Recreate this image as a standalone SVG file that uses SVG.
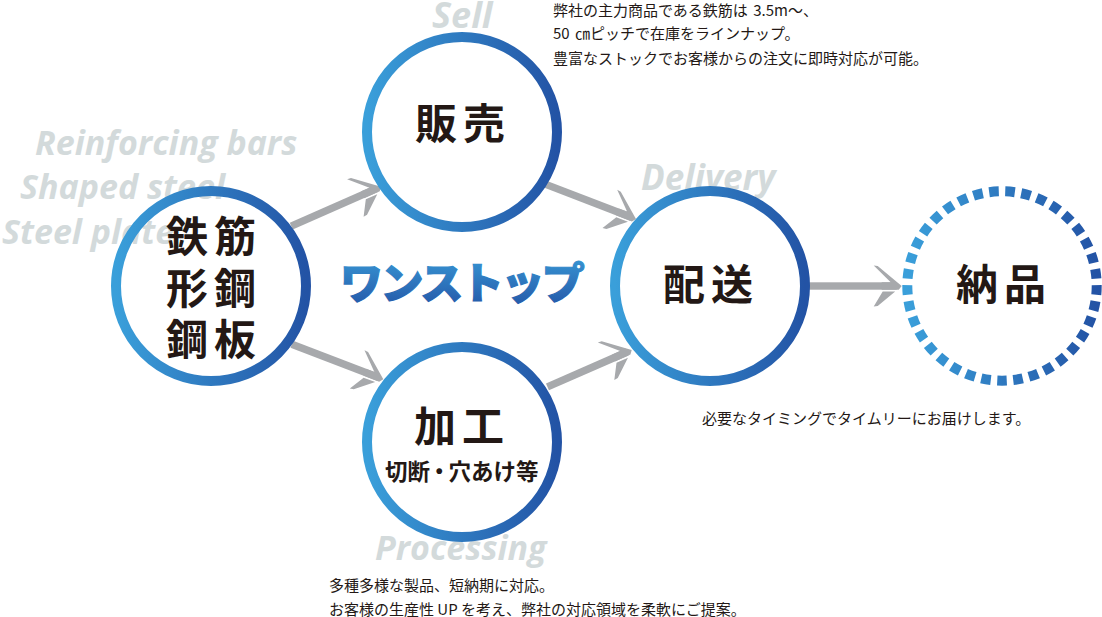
<svg xmlns="http://www.w3.org/2000/svg" width="1102" height="617" viewBox="0 0 1102 617">
<style>
text{font-family:"Noto Sans CJK JP","Noto Sans",sans-serif;fill:#231815}
.ghost{font-family:"Open Sans","Noto Sans",sans-serif;font-style:italic;font-weight:700;font-size:34px;fill:#d3dadb}
.big{font-weight:700;font-size:42px;letter-spacing:6px}
.note{font-size:15px;word-spacing:2px}
.ring{fill:none;stroke:url(#g);stroke-width:10}
.shaft{fill:#a7a9ac}
</style>
<defs>
<linearGradient id="g" x1="0" y1="0" x2="1" y2="0"><stop offset="0" stop-color="#3a9fda"/><stop offset="1" stop-color="#2353a5"/></linearGradient>
<linearGradient id="gv" x1="0" y1="0" x2="0" y2="1"><stop offset="0" stop-color="#3a9fda"/><stop offset="1" stop-color="#2353a5"/></linearGradient>
<path id="head" class="shaft" d="M-28-20.5L-24-20L0 0L-3 3.7H-20V-3.7H-11ZM-28 20.5L-19 5.5H-6.5L-24 20Z"/>
</defs>
<g id="ghost-labels">
<text class="ghost" x="35" y="155">Reinforcing bars</text>
<text class="ghost" x="20" y="199">Shaped steel</text>
<text class="ghost" x="2" y="244">Steel plate</text>
<text class="ghost" x="432" y="28" style="font-size:36px">Sell</text>
<text class="ghost" x="641" y="190" style="font-size:35px">Delivery</text>
<text class="ghost" x="375" y="560">Processing</text>
</g>
<g id="connectors">
<g transform="translate(381 186.7) rotate(-23.7)"><rect class="shaft" x="-98" y="-3.7" width="93" height="7.4"/><use href="#head"/></g>
<g transform="translate(383.3 379.3) rotate(21)"><rect class="shaft" x="-98" y="-3.7" width="93" height="7.4"/><use href="#head"/></g>
<g transform="translate(636 219) rotate(21)"><rect class="shaft" x="-98" y="-3.7" width="93" height="7.4"/><use href="#head"/></g>
<g transform="translate(631.7 350) rotate(-23.7)"><rect class="shaft" x="-92" y="-3.7" width="87" height="7.4"/><use href="#head"/></g>
<g transform="translate(901.7 286)"><rect class="shaft" x="-93" y="-3.7" width="88" height="7.4"/><use href="#head"/></g>
</g>
<g id="node-steel">
<circle class="ring" cx="211" cy="286" r="95"/>
<text class="big" x="166" y="252">鉄筋</text>
<text class="big" x="166" y="304">形鋼</text>
<text class="big" x="166" y="355">鋼板</text>
</g>
<g id="node-sell">
<circle class="ring" cx="462" cy="132" r="95"/>
<text class="big" x="415" y="139">販売</text>
</g>
<g id="node-process">
<circle class="ring" cx="462" cy="442" r="95"/>
<text class="big" x="414" y="442">加工</text>
<text x="385" y="480" font-weight="700" font-size="22.5px">切断<tspan dx="-2">・</tspan><tspan dx="-2">穴あけ等</tspan></text>
</g>
<g id="node-delivery">
<circle class="ring" cx="710" cy="286" r="95"/>
<text class="big" x="663" y="300">配送</text>
</g>
<g id="node-goods">
<path d="M1002 380.7A94.7 94.7 0 1 1 1002.01 380.7Z" pathLength="37" fill="none" stroke="url(#g)" stroke-width="10" stroke-dasharray="0.6 0.4" stroke-dashoffset="0.3"/>
<text class="big" x="956" y="300">納品</text>
</g>
<g id="center-label">
<text x="340" y="299" font-weight="900" font-size="43px" letter-spacing="-2.5" style="fill:url(#gv);stroke:url(#gv);stroke-width:1.2">ワンストップ</text>
</g>
<g id="notes">
<text class="note" x="553" y="16">弊社の主力商品である鉄筋は 3.5m～、</text>
<text class="note" x="553" y="39">50 ㎝ピッチで在庫をラインナップ。</text>
<text class="note" x="553" y="64">豊富なストックでお客様からの注文に即時対応が可能。</text>
<text class="note" x="702" y="424">必要なタイミングでタイムリーにお届けします。</text>
<text class="note" x="329" y="591">多種多様な製品、短納期に対応。</text>
<text class="note" x="329" y="615" style="word-spacing:0">お客様の生産性 UP を考え、弊社の対応領域を柔軟にご提案。</text>
</g>
</svg>
